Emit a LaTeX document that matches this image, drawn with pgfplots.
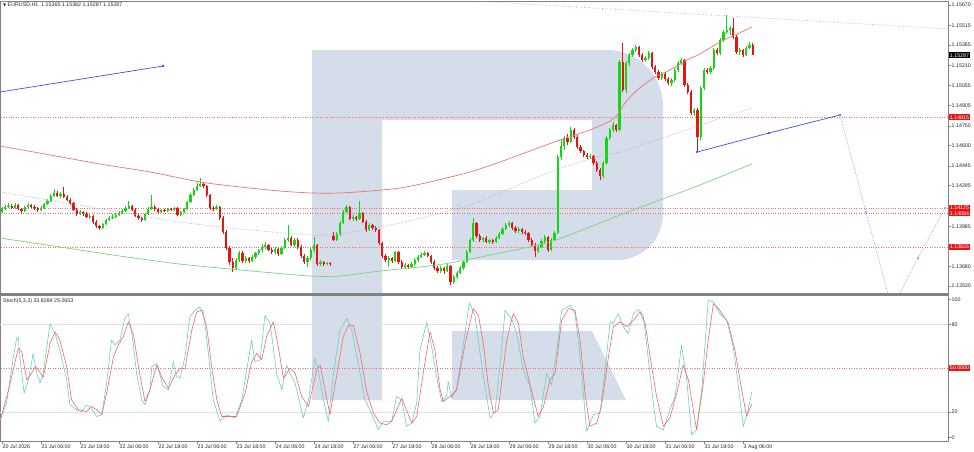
\documentclass[border=0pt]{standalone}
\usepackage{fontspec}
\setmainfont{Liberation Sans}
\newfontfamily\dejavu{DejaVu Sans}
\usepackage{pgfplots}
\usepackage{pgfplotstable}
\pgfplotsset{compat=1.18}
\definecolor{bull}{RGB}{20,215,20}
\definecolor{bear}{RGB}{232,20,20}
\definecolor{lvl}{RGB}{240,110,110}
\definecolor{wm}{RGB}{212,221,233}
\definecolor{maRed}{RGB}{240,115,115}
\definecolor{maGreen}{RGB}{125,210,125}
\definecolor{maGray}{RGB}{175,175,175}
\definecolor{tl}{RGB}{75,75,230}
\definecolor{tlLight}{RGB}{140,140,240}
\definecolor{stK}{RGB}{100,210,195}
\definecolor{stD}{RGB}{250,100,100}
\definecolor{frm}{RGB}{130,130,130}
\newcommand\lab{\fontsize{5.3pt}{6pt}\selectfont}
\pgfplotstableread{
i o h l c
0 1.14093 1.14131 1.14086 1.14116
1 1.14116 1.14147 1.14109 1.14131
2 1.14131 1.14162 1.14124 1.14139
3 1.14139 1.14154 1.14116 1.14124
4 1.14124 1.14162 1.14116 1.14147
5 1.14147 1.14154 1.14109 1.14116
6 1.14116 1.14124 1.14086 1.14101
7 1.14101 1.14139 1.14093 1.14131
8 1.14131 1.14162 1.14124 1.14147
9 1.14147 1.14154 1.14124 1.14131
10 1.14131 1.14147 1.14109 1.14124
11 1.14124 1.14131 1.14093 1.14109
12 1.14109 1.14139 1.14101 1.14124
13 1.14124 1.14162 1.14116 1.14154
14 1.14154 1.14192 1.14147 1.14177
15 1.14177 1.14230 1.14170 1.14215
16 1.14215 1.14269 1.14208 1.14238
17 1.14238 1.14253 1.14208 1.14215
18 1.14215 1.14246 1.14200 1.14230
19 1.14230 1.14284 1.14200 1.14208
20 1.14208 1.14223 1.14177 1.14185
21 1.14185 1.14200 1.14147 1.14162
22 1.14162 1.14170 1.14101 1.14109
23 1.14109 1.14124 1.14063 1.14078
24 1.14078 1.14109 1.14071 1.14093
25 1.14093 1.14101 1.14063 1.14078
26 1.14078 1.14093 1.14048 1.14055
27 1.14055 1.14078 1.14040 1.14063
28 1.14063 1.14071 1.14002 1.14017
29 1.14017 1.14032 1.13972 1.13987
30 1.13987 1.13994 1.13956 1.13972
31 1.13972 1.14010 1.13964 1.14002
32 1.14002 1.14040 1.13994 1.14032
33 1.14032 1.14063 1.14025 1.14048
34 1.14048 1.14078 1.14040 1.14055
35 1.14055 1.14086 1.14048 1.14071
36 1.14071 1.14101 1.14063 1.14086
37 1.14086 1.14116 1.14078 1.14101
38 1.14101 1.14139 1.14093 1.14124
39 1.14124 1.14177 1.14116 1.14139
40 1.14139 1.14147 1.14101 1.14109
41 1.14109 1.14124 1.14055 1.14063
42 1.14063 1.14078 1.14032 1.14048
43 1.14048 1.14055 1.14017 1.14032
44 1.14032 1.14086 1.14025 1.14078
45 1.14078 1.14131 1.14071 1.14116
46 1.14116 1.14223 1.14109 1.14131
47 1.14131 1.14147 1.14101 1.14116
48 1.14116 1.14124 1.14086 1.14093
49 1.14093 1.14116 1.14086 1.14109
50 1.14109 1.14116 1.14093 1.14101
51 1.14101 1.14124 1.14093 1.14116
52 1.14116 1.14124 1.14101 1.14109
53 1.14109 1.14131 1.14101 1.14124
54 1.14124 1.14131 1.14063 1.14071
55 1.14071 1.14101 1.14063 1.14093
56 1.14093 1.14124 1.14086 1.14116
57 1.14116 1.14177 1.14109 1.14170
58 1.14170 1.14238 1.14162 1.14223
59 1.14223 1.14276 1.14215 1.14261
60 1.14261 1.14314 1.14253 1.14291
61 1.14291 1.14352 1.14284 1.14307
62 1.14307 1.14322 1.14276 1.14291
63 1.14291 1.14299 1.14208 1.14223
64 1.14223 1.14230 1.14109 1.14124
65 1.14124 1.14139 1.14101 1.14116
66 1.14116 1.14147 1.14109 1.14131
67 1.14131 1.14139 1.14032 1.14048
68 1.14048 1.14063 1.13926 1.13941
69 1.13941 1.13956 1.13804 1.13819
70 1.13819 1.13834 1.13690 1.13713
71 1.13713 1.13743 1.13636 1.13667
72 1.13667 1.13743 1.13652 1.13728
73 1.13728 1.13796 1.13713 1.13781
74 1.13781 1.13796 1.13705 1.13720
75 1.13720 1.13758 1.13705 1.13743
76 1.13743 1.13751 1.13705 1.13720
77 1.13720 1.13766 1.13713 1.13751
78 1.13751 1.13789 1.13735 1.13781
79 1.13781 1.13812 1.13766 1.13804
80 1.13804 1.13850 1.13789 1.13827
81 1.13827 1.13865 1.13812 1.13842
82 1.13842 1.13850 1.13796 1.13804
83 1.13804 1.13819 1.13774 1.13789
84 1.13789 1.13827 1.13774 1.13812
85 1.13812 1.13819 1.13758 1.13774
86 1.13774 1.13834 1.13766 1.13819
87 1.13819 1.13895 1.13812 1.13880
88 1.13880 1.13994 1.13865 1.13895
89 1.13895 1.13911 1.13834 1.13842
90 1.13842 1.13895 1.13827 1.13880
91 1.13880 1.13895 1.13812 1.13827
92 1.13827 1.13842 1.13743 1.13758
93 1.13758 1.13774 1.13697 1.13713
94 1.13713 1.13758 1.13675 1.13743
95 1.13743 1.13819 1.13728 1.13804
96 1.13804 1.13903 1.13789 1.13842
97 1.13842 1.13850 1.13682 1.13697
98 1.13697 1.13728 1.13682 1.13713
99 1.13713 1.13720 1.13682 1.13697
100 1.13697 1.13713 1.13690 1.13705
101 1.13705 1.13713 1.13682 1.13697
102 1.13911 1.13941 1.13873 1.13880
103 1.13880 1.13941 1.13873 1.13926
104 1.13926 1.14025 1.13911 1.14010
105 1.14010 1.14109 1.14002 1.14093
106 1.14093 1.14147 1.14086 1.14131
107 1.14131 1.14139 1.14032 1.14040
108 1.14040 1.14071 1.14025 1.14055
109 1.14055 1.14063 1.14025 1.14040
110 1.14040 1.14177 1.14032 1.14086
111 1.14086 1.14093 1.14010 1.14017
112 1.14017 1.14032 1.13941 1.13956
113 1.13956 1.14010 1.13949 1.13994
114 1.13994 1.14002 1.13956 1.13972
115 1.13972 1.13987 1.13941 1.13956
116 1.13956 1.13964 1.13842 1.13857
117 1.13857 1.13865 1.13743 1.13758
118 1.13758 1.13774 1.13713 1.13728
119 1.13728 1.13758 1.13675 1.13743
120 1.13743 1.13751 1.13705 1.13720
121 1.13720 1.13796 1.13713 1.13789
122 1.13789 1.13796 1.13697 1.13713
123 1.13713 1.13728 1.13659 1.13675
124 1.13675 1.13705 1.13667 1.13690
125 1.13690 1.13697 1.13659 1.13675
126 1.13675 1.13713 1.13667 1.13697
127 1.13697 1.13743 1.13682 1.13728
128 1.13728 1.13766 1.13713 1.13751
129 1.13751 1.13781 1.13743 1.13766
130 1.13766 1.13796 1.13758 1.13781
131 1.13781 1.13789 1.13751 1.13758
132 1.13758 1.13766 1.13697 1.13713
133 1.13713 1.13728 1.13652 1.13667
134 1.13667 1.13682 1.13629 1.13644
135 1.13644 1.13682 1.13629 1.13667
136 1.13667 1.13675 1.13621 1.13644
137 1.13644 1.13697 1.13636 1.13682
138 1.13682 1.13690 1.13537 1.13560
139 1.13560 1.13614 1.13545 1.13598
140 1.13598 1.13644 1.13583 1.13629
141 1.13629 1.13682 1.13621 1.13667
142 1.13667 1.13728 1.13652 1.13713
143 1.13713 1.13804 1.13705 1.13789
144 1.13789 1.13895 1.13781 1.13880
145 1.13880 1.14048 1.13865 1.14010
146 1.14010 1.14017 1.13895 1.13911
147 1.13911 1.13926 1.13865 1.13880
148 1.13880 1.13903 1.13865 1.13895
149 1.13895 1.13911 1.13857 1.13865
150 1.13865 1.13888 1.13850 1.13880
151 1.13880 1.13888 1.13850 1.13865
152 1.13865 1.13911 1.13857 1.13895
153 1.13895 1.13941 1.13888 1.13926
154 1.13926 1.13979 1.13918 1.13964
155 1.13964 1.14010 1.13956 1.13994
156 1.13994 1.14025 1.13979 1.14010
157 1.14010 1.14017 1.13956 1.13972
158 1.13972 1.13987 1.13933 1.13949
159 1.13949 1.13979 1.13933 1.13964
160 1.13964 1.13972 1.13926 1.13941
161 1.13941 1.13956 1.13918 1.13933
162 1.13933 1.13941 1.13865 1.13880
163 1.13880 1.13895 1.13827 1.13842
164 1.13842 1.13857 1.13751 1.13796
165 1.13796 1.13842 1.13781 1.13827
166 1.13827 1.13888 1.13819 1.13873
167 1.13873 1.13918 1.13857 1.13903
168 1.13903 1.13911 1.13789 1.13804
169 1.13804 1.13895 1.13796 1.13880
170 1.13880 1.13949 1.13873 1.13933
171 1.13933 1.14528 1.13926 1.14512
172 1.14512 1.14642 1.14489 1.14596
173 1.14596 1.14672 1.14566 1.14657
174 1.14657 1.14687 1.14604 1.14627
175 1.14627 1.14741 1.14619 1.14718
176 1.14718 1.14733 1.14649 1.14665
177 1.14665 1.14680 1.14573 1.14588
178 1.14588 1.14604 1.14543 1.14558
179 1.14558 1.14566 1.14512 1.14528
180 1.14528 1.14543 1.14497 1.14512
181 1.14512 1.14535 1.14497 1.14520
182 1.14520 1.14528 1.14451 1.14467
183 1.14467 1.14482 1.14398 1.14413
184 1.14413 1.14429 1.14337 1.14368
185 1.14368 1.14482 1.14352 1.14467
186 1.14467 1.14672 1.14451 1.14657
187 1.14657 1.14733 1.14642 1.14718
188 1.14718 1.14779 1.14703 1.14756
189 1.14756 1.14764 1.14703 1.14718
190 1.14718 1.15251 1.14710 1.15236
191 1.15236 1.15381 1.15007 1.15023
192 1.15023 1.15243 1.15000 1.15228
193 1.15228 1.15304 1.15205 1.15289
194 1.15289 1.15342 1.15274 1.15327
195 1.15327 1.15365 1.15312 1.15350
196 1.15350 1.15358 1.15274 1.15289
197 1.15289 1.15304 1.15236 1.15251
198 1.15251 1.15282 1.15236 1.15266
199 1.15266 1.15320 1.15251 1.15304
200 1.15304 1.15312 1.15182 1.15198
201 1.15198 1.15213 1.15144 1.15160
202 1.15160 1.15175 1.15099 1.15114
203 1.15114 1.15160 1.15099 1.15144
204 1.15144 1.15160 1.15091 1.15106
205 1.15106 1.15122 1.15061 1.15076
206 1.15076 1.15114 1.15053 1.15099
207 1.15099 1.15190 1.15083 1.15175
208 1.15175 1.15243 1.15160 1.15228
209 1.15228 1.15266 1.15213 1.15251
210 1.15251 1.15259 1.15045 1.15061
211 1.15061 1.15076 1.14992 1.15007
212 1.15007 1.15023 1.14832 1.14847
213 1.14847 1.14885 1.14825 1.14870
214 1.14870 1.14885 1.14550 1.14665
215 1.14665 1.15053 1.14642 1.15038
216 1.15038 1.15190 1.15023 1.15175
217 1.15175 1.15190 1.15144 1.15160
218 1.15160 1.15205 1.15144 1.15190
219 1.15190 1.15342 1.15175 1.15327
220 1.15327 1.15342 1.15289 1.15304
221 1.15304 1.15419 1.15289 1.15403
222 1.15403 1.15480 1.15388 1.15464
223 1.15464 1.15594 1.15449 1.15480
224 1.15480 1.15510 1.15441 1.15495
225 1.15495 1.15571 1.15411 1.15426
226 1.15426 1.15441 1.15297 1.15312
227 1.15312 1.15342 1.15289 1.15327
228 1.15327 1.15335 1.15274 1.15289
229 1.15289 1.15358 1.15282 1.15342
230 1.15342 1.15388 1.15335 1.15365
231 1.15365 1.15382 1.15287 1.15287
}\candles
\begin{document}
\begin{tikzpicture}
\useasboundingbox (0,0) rectangle (974pt,-451pt);
\fill[white] (0,0) rectangle (974pt,-451pt);
% watermark
\fill[wm] (312pt,-50pt) -- (607pt,-50pt) arc[start angle=90,end angle=0,radius=56pt] -- (663pt,-214pt) arc[start angle=0,end angle=-90,radius=46pt] -- (452pt,-260pt) -- (452pt,-190pt) -- (592pt,-190pt) -- (592pt,-120pt) -- (382pt,-120pt) -- (382pt,-400pt) -- (312pt,-400pt) -- cycle;
\fill[wm] (452pt,-331pt) -- (592pt,-331pt) -- (626pt,-400pt) -- (452pt,-400pt) -- cycle;

\begin{axis}[
  at={(0pt,-1pt)}, anchor=north west, scale only axis,
  width=948pt, height=293pt,
  xmin=-0.615, xmax=291.08, ymin=1.13469, ymax=1.15700,
  clip mode=individual,
  axis line style={draw=frm, line width=0.8pt},
  xtick=\empty,
  ytick pos=right,
  ytick={1.15670,1.15515,1.15365,1.15210,1.15055,1.14905,1.14750,1.14600,1.14445,1.14295,1.13985,1.13680,1.13530},
  tick align=outside, major tick length=2.5pt,
  tick style={draw=frm, line width=0.5pt},
  scaled y ticks=false,
  yticklabel style={font=\lab, text=black!85, inner sep=1pt,
    /pgf/number format/.cd, fixed, fixed zerofill, precision=5, assume math mode=true},
]
% horizontal levels
\addplot[lvl, dotted, line width=0.45pt] coordinates {(-1,1.14815) (292,1.14815)};
\addplot[lvl, dotted, line width=0.45pt] coordinates {(-1,1.14125) (292,1.14125)};
\addplot[lvl, dotted, line width=0.45pt] coordinates {(-1,1.14084) (292,1.14084)};
\addplot[lvl, dotted, line width=0.45pt] coordinates {(-1,1.13826) (292,1.13826)};
% candles: wicks
\addplot[draw=bull, line width=0.6pt, quiver={u=0, v={\thisrow{h}-\thisrow{l}}},
  restrict expr to domain={(\thisrow{c}-\thisrow{o})*100000}{-0.5:100000}] table[x=i, y=l] {\candles};
\addplot[draw=bear, line width=0.6pt, quiver={u=0, v={\thisrow{h}-\thisrow{l}}},
  restrict expr to domain={(\thisrow{c}-\thisrow{o})*100000}{-100000:-0.5}] table[x=i, y=l] {\candles};
% candles: bodies
\addplot[draw=bull, line width=2.3pt, quiver={u=0, v={\thisrow{c}-\thisrow{o}}},
  restrict expr to domain={(\thisrow{c}-\thisrow{o})*100000}{-0.5:100000}] table[x=i, y=o] {\candles};
\addplot[draw=bear, line width=2.3pt, quiver={u=0, v={\thisrow{c}-\thisrow{o}}},
  restrict expr to domain={(\thisrow{c}-\thisrow{o})*100000}{-100000:-0.5}] table[x=i, y=o] {\candles};
% moving averages
\addplot[maRed, line width=0.7pt, smooth, tension=0.4] coordinates {
 (-0.62,1.14596) (14.77,1.14528) (30.15,1.14459) (45.54,1.14398) (60.92,1.14322) (73.23,1.14284)
 (85.54,1.14253) (95.38,1.14238) (104.0,1.14238) (113.23,1.14253) (122.46,1.14276) (131.69,1.14322)
 (144.0,1.14398) (153.23,1.14474) (162.46,1.14558) (171.69,1.14642) (180.92,1.14718) (187.08,1.14786)
 (189.54,1.14840) (191.69,1.14924) (194.77,1.15007) (197.85,1.15068) (200.92,1.15122) (205.54,1.15175)
 (210.77,1.15251) (214.77,1.15297) (220.92,1.15388) (225.54,1.15441) (230.77,1.15502)};
\addplot[maGray, densely dotted, line width=0.6pt, smooth, tension=0.4] coordinates {
 (-0.62,1.14246) (17.85,1.14170) (36.31,1.14093) (54.77,1.14017) (73.23,1.13964) (94.77,1.13918)
 (104.0,1.13926) (119.38,1.13994) (131.69,1.14063) (144.0,1.14147) (153.23,1.14238) (168.62,1.14398)
 (184.0,1.14520) (190.15,1.14550) (202.46,1.14649) (214.77,1.14756) (230.77,1.14885)};
\addplot[maGreen, line width=0.7pt, smooth, tension=0.4] coordinates {
 (-0.62,1.13895) (17.85,1.13827) (36.31,1.13758) (54.77,1.13697) (73.23,1.13652) (94.77,1.13606)
 (104.0,1.13606) (116.31,1.13644) (128.62,1.13675) (137.85,1.13705) (153.23,1.13781) (168.62,1.13865)
 (184.0,1.14010) (190.15,1.14071) (202.46,1.14185) (214.77,1.14299) (230.77,1.14459)};
% trend lines
\addplot[tl, line width=0.7pt, mark=*, mark size=0.8pt, mark indices={2}] coordinates {(-0.615,1.15007) (49.54,1.15205)};
\addplot[tlLight, dotted, line width=0.6pt] coordinates {(145.54,1.15700) (291.08,1.15487)};
\addplot[tl, line width=0.7pt, mark=*, mark size=0.7pt] coordinates {(213.85,1.14550) (236.0,1.14695) (257.85,1.14832)};
\addplot[tlLight, densely dotted, line width=0.6pt, mark=*, mark size=0.6pt, mark options={solid}] coordinates {(257.85,1.14832) (265.85,1.14093) (273.85,1.13355) (281.85,1.13743) (290.15,1.14124)};
% price labels
\node[fill=bear, text=white, font=\lab, inner sep=0.9pt, anchor=west, xshift=0.8pt] at (axis cs:291.08,1.14815) {1.14815};
\node[fill=bear, text=white, font=\lab, inner sep=0.9pt, anchor=west, xshift=0.8pt] at (axis cs:291.08,1.14125) {1.14125};
\node[fill=bear, text=white, font=\lab, inner sep=0.9pt, anchor=west, xshift=0.8pt] at (axis cs:291.08,1.14084) {1.14084};
\node[fill=bear, text=white, font=\lab, inner sep=0.9pt, anchor=west, xshift=0.8pt] at (axis cs:291.08,1.13826) {1.13826};
\node[fill=black, text=white, font=\lab, inner sep=0.9pt, anchor=west, xshift=0.8pt] at (axis cs:291.08,1.15287) {1.15287};
\end{axis}

\begin{axis}[
  at={(0pt,-295pt)}, anchor=north west, scale only axis,
  width=948pt, height=146pt,
  xmin=-0.615, xmax=291.08, ymin=0, ymax=100,
  clip mode=individual,
  axis line style={draw=frm, line width=0.8pt},
  ytick pos=right, ytick={2.3,20,80,96.8}, yticklabels={0,20,80,100},
  yticklabel style={font=\lab, text=black!85, inner sep=1pt},
  xtick pos=left, xtick={0,12,...,228},
  xticklabels={20 Jul 2026,21 Jul 06:00,21 Jul 18:00,22 Jul 06:00,22 Jul 18:00,23 Jul 06:00,23 Jul 18:00,24 Jul 06:00,24 Jul 18:00,27 Jul 06:00,27 Jul 18:00,28 Jul 06:00,28 Jul 18:00,29 Jul 06:00,29 Jul 18:00,30 Jul 06:00,30 Jul 18:00,31 Jul 06:00,31 Jul 18:00,3 Aug 06:00},
  xticklabel style={anchor=north west, font=\lab, text=black!85, inner sep=1pt, xshift=-0.5pt},
  tick align=outside, major tick length=2.5pt,
  tick style={draw=frm, line width=0.5pt},
]
\addplot[black!12, line width=0.5pt] coordinates {(-1,80) (292,80)};
\addplot[black!12, line width=0.5pt] coordinates {(-1,20) (292,20)};
\addplot[lvl, dotted, line width=0.45pt] coordinates {(-1,50) (292,50)};
\addplot[stK, line width=0.6pt, line join=round] coordinates {
(-0.6,14.5)(1.4,25.9)(3.5,57.7)(4.5,70.2)(5.0,71.4)(5.5,57.7)(6.8,32.7)(8.1,41.8)(9.6,60.0)(10.7,46.4)(11.7,39.6)(12.7,46.4)(14.8,80.5)(16.3,73.6)(17.8,62.3)(19.9,41.8)(20.9,24.8)(23.0,21.4)(24.5,20.2)(26.0,24.8)(27.6,22.5)(29.1,16.8)(30.7,18.0)(32.2,39.6)(33.7,69.1)(34.8,65.7)(36.3,69.1)(37.8,83.9)(38.9,87.3)(40.4,66.8)(41.4,46.4)(43.0,28.2)(44.0,24.8)(45.5,35.0)(46.1,50.9)(47.6,53.2)(49.6,37.3)(51.2,35.0)(52.7,54.3)(53.7,44.1)(54.8,43.0)(56.3,57.7)(57.8,85.0)(59.4,89.5)(60.7,91.8)(62.0,88.4)(63.5,60.0)(65.0,28.2)(67.1,13.4)(69.1,18.0)(71.7,15.7)(73.8,28.2)(75.8,55.5)(76.8,69.1)(77.8,54.3)(79.4,55.5)(80.9,86.1)(82.5,80.5)(84.5,46.4)(86.1,35.0)(87.6,52.0)(88.6,46.4)(90.2,39.6)(92.7,15.7)(94.3,28.2)(96.3,56.6)(97.3,48.6)(98.9,28.2)(100.4,13.4)(102.0,46.4)(104.0,75.9)(106.1,83.9)(107.6,75.9)(109.6,53.2)(111.7,28.2)(113.2,21.4)(114.3,15.7)(115.8,7.7)(117.3,13.4)(119.9,13.4)(121.4,30.5)(123.0,28.2)(124.5,10.0)(126.1,12.3)(127.6,25.9)(128.6,62.3)(130.7,81.6)(132.2,64.6)(133.7,44.1)(135.3,27.0)(136.8,30.5)(137.3,40.7)(138.4,29.3)(139.9,36.1)(141.4,57.7)(143.8,94.5)(145.5,86.1)(147.1,60.0)(148.6,37.3)(150.2,15.7)(151.7,20.2)(153.2,50.9)(154.8,89.5)(156.8,83.9)(158.4,73.6)(160.4,48.6)(162.5,37.3)(164.0,12.3)(165.5,16.8)(167.6,46.4)(169.1,38.4)(170.7,62.3)(172.2,89.5)(174.8,92.9)(176.3,87.3)(177.9,57.7)(179.9,6.6)(182.0,18.0)(184.0,19.1)(185.5,47.5)(187.1,81.6)(188.1,80.5)(189.6,87.3)(191.2,78.2)(192.7,73.6)(194.3,87.3)(195.8,90.0)(197.3,86.1)(198.9,55.5)(200.4,25.9)(201.4,10.0)(203.5,7.7)(205.5,21.4)(207.1,30.5)(209.1,65.7)(210.7,41.8)(212.2,4.3)(213.7,7.7)(215.3,35.0)(217.3,96.4)(218.9,95.2)(220.9,87.3)(223.0,82.7)(225.0,64.6)(226.6,37.3)(228.1,10.0)(229.6,21.4)(230.7,33.8)};
\addplot[stD, line width=0.6pt, line join=round] coordinates {
(-0.6,13.4)(2.0,35.0)(5.0,63.4)(6.1,61.1)(7.6,41.8)(9.1,46.4)(10.2,50.9)(11.2,48.6)(12.7,43.6)(14.8,66.8)(16.3,74.8)(17.8,69.1)(19.9,50.9)(21.4,28.2)(23.5,21.4)(26.0,20.2)(27.6,23.6)(29.1,21.4)(30.7,18.0)(32.2,32.7)(34.3,57.7)(35.8,65.7)(37.3,71.4)(38.9,81.6)(40.4,73.6)(42.5,44.1)(44.0,27.0)(45.5,35.0)(47.6,52.0)(49.6,41.8)(51.2,36.1)(53.2,45.2)(54.8,49.8)(56.3,49.8)(58.4,75.9)(59.9,88.4)(61.4,89.5)(63.0,78.2)(64.5,50.9)(66.1,28.2)(67.6,16.8)(70.2,16.8)(72.2,16.8)(74.8,32.7)(76.8,54.3)(78.4,60.0)(79.9,55.5)(81.4,71.4)(83.5,81.6)(85.0,64.6)(86.6,43.0)(88.6,49.8)(90.2,46.4)(92.2,30.5)(94.3,23.6)(96.8,48.6)(97.9,52.0)(99.4,35.0)(100.9,18.0)(103.0,45.2)(105.0,71.4)(106.6,79.3)(108.1,79.3)(110.2,60.0)(112.2,33.8)(114.3,19.1)(116.3,12.3)(118.4,11.1)(119.9,13.4)(123.0,29.3)(126.1,12.3)(127.6,16.8)(129.6,46.4)(131.7,74.8)(133.2,62.3)(134.8,35.0)(135.8,27.0)(137.9,30.5)(139.9,35.0)(142.5,66.8)(145.0,90.7)(146.6,86.1)(148.1,66.8)(149.6,38.4)(151.2,19.1)(152.7,21.4)(155.3,69.1)(157.3,87.3)(158.9,80.5)(160.4,57.7)(163.0,33.8)(165.0,16.8)(166.6,23.6)(168.6,41.8)(170.2,46.4)(172.2,82.7)(174.3,90.7)(176.3,89.5)(177.9,69.1)(179.4,32.7)(180.9,10.0)(183.0,12.3)(184.5,24.8)(186.6,57.7)(188.1,78.2)(190.2,81.6)(192.2,78.2)(194.3,82.7)(196.3,88.4)(197.9,80.5)(199.4,57.7)(201.4,30.5)(203.5,10.0)(205.5,15.7)(207.6,32.7)(209.6,52.0)(211.2,41.8)(213.7,7.7)(215.8,39.6)(217.3,69.1)(218.9,94.1)(220.9,89.5)(223.5,80.5)(225.5,62.3)(227.6,35.0)(229.1,17.0)(230.7,25.3)};
\node[fill=bear, text=white, font=\lab, inner sep=0.9pt, anchor=west, xshift=0.8pt] at (axis cs:291.08,50) {50.0000};
\end{axis}
\draw[frm, line width=2.4pt] (0pt,-294.6pt) -- (948.4pt,-294.6pt);
\node[anchor=north west, inner sep=0pt, font=\lab, text=black!85] at (3pt,-3pt) {{\dejavu\fontsize{4pt}{5pt}\selectfont ▼}\ EURUSD,H1\ \ 1.15365 1.15382 1.15287 1.15287};
\node[anchor=north west, inner sep=0pt, font=\lab, text=black!85] at (3pt,-298pt) {Stoch(5,3,3) 33.8284 25.2653};
\end{tikzpicture}
\end{document}
